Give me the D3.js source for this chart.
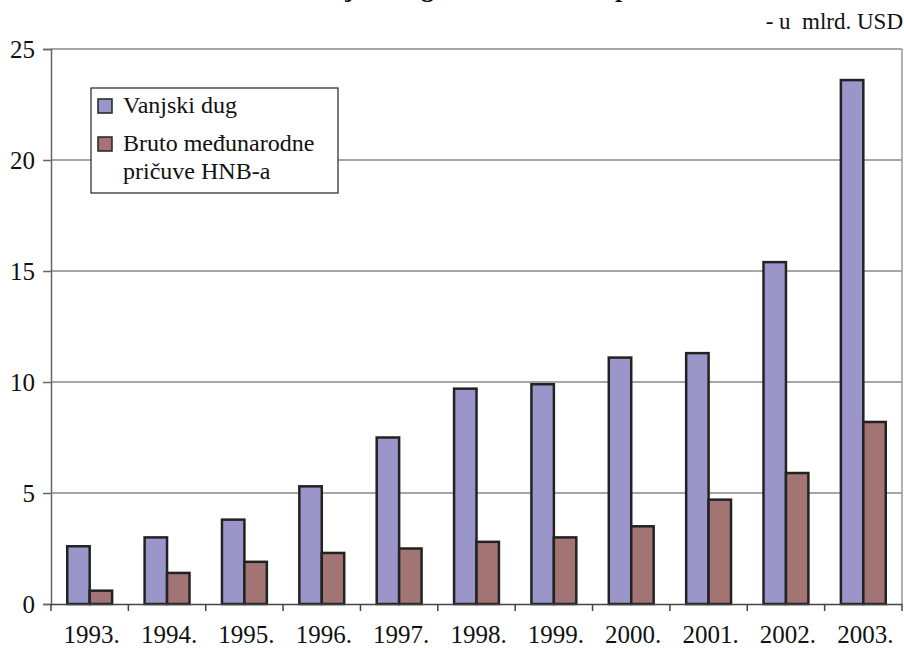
<!DOCTYPE html>
<html>
<head>
<meta charset="utf-8">
<script src="https://cdn.jsdelivr.net/npm/d3@7"></script>
</head>
<body style="margin:0; background:#fff">
<div id="chart"></div>
<script>
var years = ["1993.", "1994.", "1995.", "1996.", "1997.", "1998.", "1999.", "2000.", "2001.", "2002.", "2003."];
var vanjskiDug = [2.6, 3.0, 3.8, 5.3, 7.5, 9.7, 9.9, 11.1, 11.3, 15.4, 23.6];
var pricuve = [0.6, 1.4, 1.9, 2.3, 2.5, 2.8, 3.0, 3.5, 4.7, 5.9, 8.2];
var yTicks = [0, 5, 10, 15, 20, 25];
var legendLines = [["Vanjski dug"], ["Bruto međunarodne", "pričuve HNB-a"]];
var colors = ["#9b96c9", "#a37474"];

var serif = "'Liberation Serif'";

var W = 904, H = 648;
var margin = { top: 49, right: 2, bottom: 44, left: 51 },
    width = W - margin.left - margin.right,
    height = H - margin.top - margin.bottom;

var svg = d3.select("#chart").append("svg")
    .attr("width", W).attr("height", H);

// title, cut off by the top edge like in the source
svg.append("text")
    .attr("x", 500).attr("y", -3)
    .attr("text-anchor", "middle")
    .style("font-family", serif)
    .style("font-size", "26px").style("font-weight", "bold")
    .attr("fill", "#111")
    .text("Vanjski dug i međunarodne pričuve");

svg.append("text")
    .attr("x", 903).attr("y", 29)
    .attr("text-anchor", "end")
    .style("font-family", serif)
    .style("font-size", "23px")
    .style("white-space", "pre")
    .attr("fill", "#111")
    .text("- u  mlrd. USD");

var g = svg.append("g")
    .attr("transform", "translate(" + margin.left + "," + margin.top + ")");

var x = d3.scaleBand().domain(years).range([0, width]);
var y = d3.scaleLinear().domain([0, 25]).range([height, 0]);

// gridlines
g.selectAll(".grid").data(yTicks.filter(d => d > 0)).enter()
    .append("line")
    .attr("x1", 0).attr("x2", width)
    .attr("y1", d => y(d)).attr("y2", d => y(d))
    .attr("stroke", "#888").attr("stroke-width", 1.5);

// right border
g.append("line")
    .attr("x1", width).attr("x2", width)
    .attr("y1", 0).attr("y2", height)
    .attr("stroke", "#999").attr("stroke-width", 1.5);

// y axis
var yAxis = g.append("g")
    .call(d3.axisLeft(y).tickValues(yTicks).tickSize(8).tickPadding(8));
yAxis.attr("font-family", null);
yAxis.select(".domain").attr("stroke", "#666").attr("stroke-width", 1.5);
yAxis.selectAll(".tick line").attr("stroke", "#666").attr("stroke-width", 1.5);
yAxis.selectAll(".tick text")
    .style("font-family", serif)
    .style("font-size", "25px")
    .attr("fill", "#111")
    .attr("dy", "0.34em");

// bars
var bw = x.bandwidth() * 0.29;
var groups = g.selectAll(".yr").data(years).enter()
    .append("g")
    .attr("transform", d => "translate(" + (x(d) + x.bandwidth() / 2) + ",0)");

groups.append("rect")
    .attr("x", -bw).attr("width", bw)
    .attr("y", (d, i) => y(vanjskiDug[i]))
    .attr("height", (d, i) => height - y(vanjskiDug[i]))
    .attr("fill", colors[0]).attr("stroke", "#222").attr("stroke-width", 2.5);

groups.append("rect")
    .attr("x", 0).attr("width", bw)
    .attr("y", (d, i) => y(pricuve[i]))
    .attr("height", (d, i) => height - y(pricuve[i]))
    .attr("fill", colors[1]).attr("stroke", "#222").attr("stroke-width", 2.5);

// x axis
var xAxis = g.append("g")
    .attr("transform", "translate(0," + height + ")")
    .call(d3.axisBottom(x).tickSize(0));
xAxis.attr("font-family", null);
xAxis.select(".domain").attr("stroke", "#444").attr("stroke-width", 1.5);
xAxis.selectAll(".tick text")
    .style("font-family", serif)
    .style("font-size", "25px")
    .attr("fill", "#111")
    .attr("x", 2)
    .attr("y", 39)
    .attr("dy", 0);

// category separator ticks
g.selectAll(".sep").data(d3.range(years.length + 1)).enter()
    .append("line")
    .attr("x1", i => i * x.step()).attr("x2", i => i * x.step())
    .attr("y1", height).attr("y2", height + 7)
    .attr("stroke", "#444").attr("stroke-width", 1.5);

// legend
var lg = svg.append("g").attr("transform", "translate(91,88)");
lg.append("rect")
    .attr("x", 0).attr("y", 0).attr("width", 247).attr("height", 105)
    .attr("fill", "#fff").attr("stroke", "#222").attr("stroke-width", 1.2);

var rowY = [11, 49];
legendLines.forEach(function (lines, k) {
    lg.append("rect").attr("x", 7).attr("y", rowY[k]).attr("width", 14).attr("height", 14)
        .attr("fill", colors[k]).attr("stroke", "#222").attr("stroke-width", 1.5);
    lines.forEach(function (t, j) {
        lg.append("text")
            .attr("x", 32).attr("y", rowY[k] + 14 + j * 28)
            .style("font-family", serif)
            .style("font-size", "24px")
            .attr("fill", "#111")
            .text(t);
    });
});
</script>
</body>
</html>
